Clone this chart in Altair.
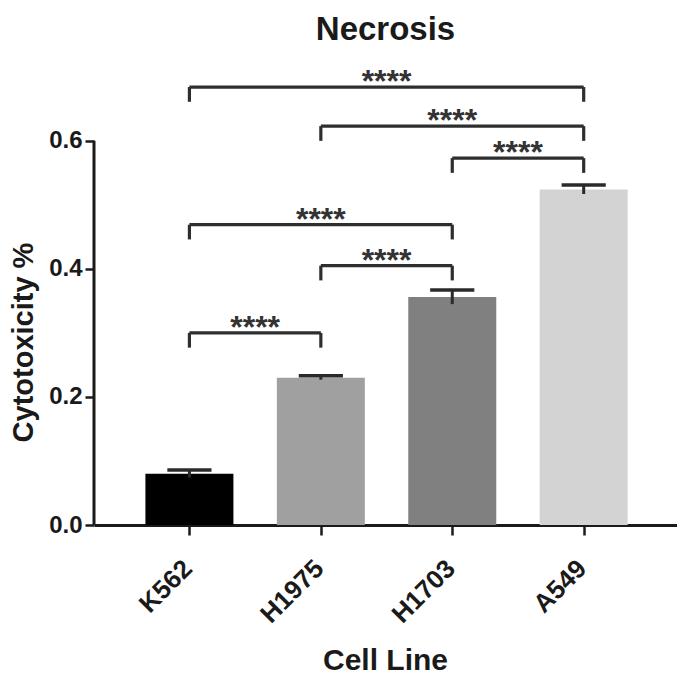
import json
import altair as alt
import pandas as pd

# ---- data ----
cells = ["K562", "H1975", "H1703", "A549"]
means = [0.080, 0.230, 0.356, 0.524]
errs = [0.006, 0.003, 0.011, 0.007]
bar_colors = ["#000000", "#a0a0a0", "#808080", "#d3d3d3"]

br_from = ["K562", "H1975", "H1703", "K562", "H1975", "K562"]
br_to = ["A549", "A549", "A549", "H1703", "H1703", "H1975"]
br_y = [0.684, 0.623, 0.573, 0.469, 0.405, 0.300]
br_label = ["****", "****", "****", "****", "****", "****"]

y_ticks = [0.0, 0.2, 0.4, 0.6]

FONT = "Liberation Sans"
INK = "#1a1a1a"
XT = "Cell Line"
YT = "Cytotoxicity %"

idx = {c: i for i, c in enumerate(cells)}
bars = pd.DataFrame({
    "cell": cells,
    "i": [idx[c] for c in cells],
    "mean": means,
    "err": errs,
})
bars["lo"] = bars["mean"] - bars["err"]
bars["hi"] = bars["mean"] + bars["err"]

brk = pd.DataFrame({
    "a": [idx[c] for c in br_from],
    "b": [idx[c] for c in br_to],
    "y": br_y,
    "lab": br_label,
})
LEG = 0.023
brk["ylow"] = brk["y"] - LEG
brk["mid"] = (brk["a"] + brk["b"]) / 2

xs = alt.Scale(domain=[-0.688, 3.672], nice=False, zero=False)
ys = alt.Scale(domain=[0, 0.72], nice=False, zero=False)

label_expr = "%s[datum.value]" % json.dumps(cells)

base_bar = alt.Chart(bars)

bar_layer = base_bar.mark_bar(width=88).encode(
    x=alt.X("i:Q", scale=xs, title=XT, axis=alt.Axis(
        values=[0, 1, 2, 3], labelExpr=label_expr,
        labelAngle=-45, labelAlign="right", labelBaseline="top",
        labelPadding=20, labelOffset=-11, labelFontSize=26, labelFont=FONT,
        labelFontWeight="bold",
        labelColor=INK, tickSize=10, tickWidth=2.5, tickColor=INK,
        domainWidth=3, domainColor=INK, grid=False,
        titleFontSize=30, titleFont=FONT, titleFontWeight="bold", titleColor=INK,
        titleX=291, titleY=135, titleAlign="center", titleBaseline="middle",
    )),
    y=alt.Y("mean:Q", scale=ys, title=YT, axis=alt.Axis(
        values=y_ticks, format=".1f", domain=False,
        labelFontSize=24, labelFont=FONT, labelFontWeight="bold", labelColor=INK,
        labelPadding=3, tickSize=9, tickWidth=2.5, tickColor=INK, grid=False,
        titleFontSize=29, titleFont=FONT, titleFontWeight="bold", titleColor=INK,
        titleX=-71, titleY=278, titleAngle=-90, titleAlign="center",
        titleBaseline="middle",
    )),
    color=alt.Color("cell:N", scale=alt.Scale(domain=cells, range=bar_colors), legend=None),
)

err_layer = base_bar.mark_rule(strokeWidth=3, color="#2a2a2a").encode(
    x=alt.X("i:Q", scale=xs, title=XT),
    y=alt.Y("lo:Q", scale=ys, title=YT),
    y2="hi:Q",
)

cap_layer = base_bar.transform_calculate(
    cl="datum.i - 0.168", cr="datum.i + 0.168"
).mark_rule(strokeWidth=3.5, color="#2a2a2a").encode(
    x=alt.X("cl:Q", scale=xs, title=XT),
    x2="cr:Q",
    y=alt.Y("hi:Q", scale=ys, title=YT),
)

yaxis_line = alt.Chart(pd.DataFrame({"y0": [0.0], "y1": [0.6]})).mark_rule(
    strokeWidth=3, color=INK
).encode(
    x=alt.value(0),
    y=alt.Y("y0:Q", scale=ys, title=YT),
    y2="y1:Q",
)

base_br = alt.Chart(brk)
br_h = base_br.mark_rule(strokeWidth=3.2, color="#2e2e2e").encode(
    x=alt.X("a:Q", scale=xs, title=XT),
    x2="b:Q",
    y=alt.Y("y:Q", scale=ys, title=YT),
)
br_l = base_br.mark_rule(strokeWidth=3.2, color="#2e2e2e").encode(
    x=alt.X("a:Q", scale=xs, title=XT),
    y=alt.Y("ylow:Q", scale=ys, title=YT),
    y2="y:Q",
)
br_r = base_br.mark_rule(strokeWidth=3.2, color="#2e2e2e").encode(
    x=alt.X("b:Q", scale=xs, title=XT),
    y=alt.Y("ylow:Q", scale=ys, title=YT),
    y2="y:Q",
)
br_t = base_br.mark_text(
    font=FONT, fontSize=32, fontWeight="bold", color="#333333",
    baseline="alphabetic", align="center", dy=5,
).encode(
    x=alt.X("mid:Q", scale=xs, title=XT),
    y=alt.Y("y:Q", scale=ys, title=YT),
    text="lab:N",
)

chart = alt.layer(
    bar_layer, err_layer, cap_layer, yaxis_line, br_h, br_l, br_r, br_t
).properties(
    width=583,
    height=461,
    title=alt.TitleParams("Necrosis", fontSize=33, font=FONT, fontWeight="bold",
                          color=INK, anchor="middle", offset=17),
    autosize=alt.AutoSizeParams(type="none"),
    padding={"left": 86, "top": 56, "right": 0, "bottom": 153},
    background="white",
).configure_view(stroke=None)

chart.save("out.html", embed_options={"renderer": "svg", "actions": False})
